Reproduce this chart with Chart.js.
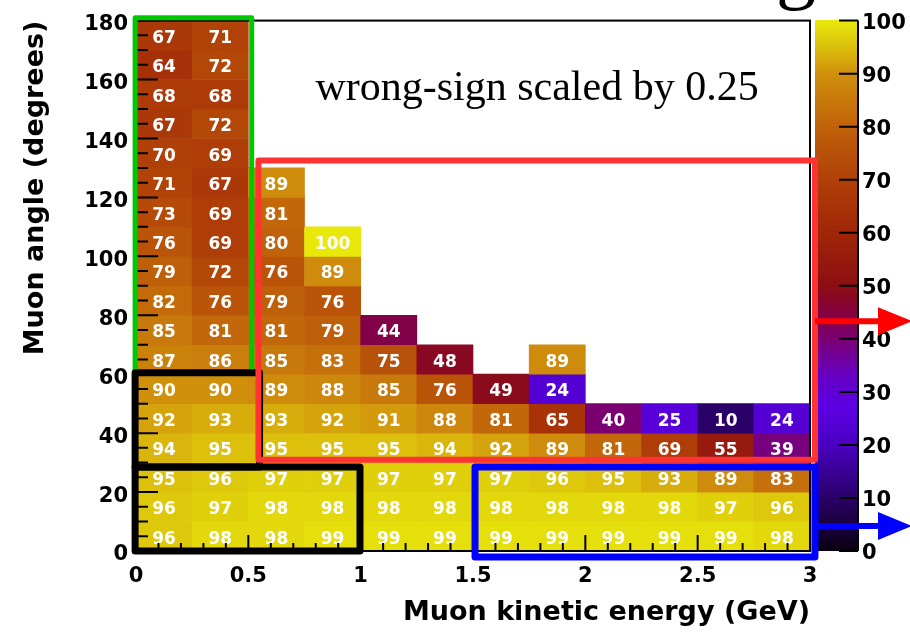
<!DOCTYPE html>
<html>
<head>
<meta charset="utf-8">
<script src="https://cdn.jsdelivr.net/npm/chart.js@4/dist/chart.umd.min.js"></script>
<style>
  html, body { margin: 0; padding: 0; background: #fff; }
  #c { display: block; }
</style>
</head>
<body>
<canvas id="c" width="910" height="634"></canvas>
<script>
// Muon kinetic energy bins (lower edges, GeV) and muon angle bins (lower edges, degrees)
const energyBinLow = [0, 0.25, 0.5, 0.75, 1.0, 1.25, 1.5, 1.75, 2.0, 2.25, 2.5, 2.75];
const angleBinLow = [0, 10, 20, 30, 40, 50, 60, 70, 80, 90, 100, 110, 120, 130, 140, 150, 160, 170];

// Purity (%) per bin, one row per angle bin starting at 0-10 degrees; null = empty bin
const purity = [
  [96, 98, 98, 99, 99, 99, 99, 99, 99, 99, 99, 98],
  [96, 97, 98, 98, 98, 98, 98, 98, 98, 98, 97, 96],
  [95, 96, 97, 97, 97, 97, 97, 96, 95, 93, 89, 83],
  [94, 95, 95, 95, 95, 94, 92, 89, 81, 69, 55, 39],
  [92, 93, 93, 92, 91, 88, 81, 65, 40, 25, 10, 24],
  [90, 90, 89, 88, 85, 76, 49, 24, null, null, null, null],
  [87, 86, 85, 83, 75, 48, null, 89, null, null, null, null],
  [85, 81, 81, 79, 44, null, null, null, null, null, null, null],
  [82, 76, 79, 76, null, null, null, null, null, null, null, null],
  [79, 72, 76, 89, null, null, null, null, null, null, null, null],
  [76, 69, 80, 100, null, null, null, null, null, null, null, null],
  [73, 69, 81, null, null, null, null, null, null, null, null, null],
  [71, 67, 89, null, null, null, null, null, null, null, null, null],
  [70, 69, null, null, null, null, null, null, null, null, null, null],
  [67, 72, null, null, null, null, null, null, null, null, null, null],
  [68, 68, null, null, null, null, null, null, null, null, null, null],
  [64, 72, null, null, null, null, null, null, null, null, null, null],
  [67, 71, null, null, null, null, null, null, null, null, null, null]
];

// Axis tick labels
const energyTicks = [0, 0.5, 1, 1.5, 2, 2.5, 3];
const angleTicks = [0, 20, 40, 60, 80, 100, 120, 140, 160, 180];
const colourTicks = [0, 10, 20, 30, 40, 50, 60, 70, 80, 90, 100];

const energyBinWidth = energyBinLow[1] - energyBinLow[0];
const angleBinWidth = angleBinLow[1] - angleBinLow[0];

// One floating bar per filled bin
const cells = [];
purity.forEach((row, i) => row.forEach((v, j) => {
  if (v === null) return;
  cells.push({ x: energyBinLow[j] + energyBinWidth / 2, y: [angleBinLow[i], angleBinLow[i] + angleBinWidth], v });
}));

// Colour palette: black -> violet -> crimson -> orange -> yellow
const paletteStops = [
  [0, [10, 0, 18]],
  [10, [42, 0, 104]],
  [20, [74, 0, 192]],
  [27, [92, 0, 228]],
  [33, [102, 0, 196]],
  [40, [122, 0, 114]],
  [45, [132, 0, 62]],
  [50, [140, 14, 18]],
  [60, [160, 38, 8]],
  [70, [176, 64, 8]],
  [80, [192, 98, 10]],
  [90, [208, 144, 12]],
  [95, [220, 192, 12]],
  [98, [226, 216, 12]],
  [100, [232, 232, 10]]
];
function paletteColour(v) {
  for (let k = 1; k < paletteStops.length; k++) {
    const [v1, c1] = paletteStops[k];
    const [v0, c0] = paletteStops[k - 1];
    if (v <= v1) {
      const t = (v - v0) / (v1 - v0);
      const c = c0.map((a, n) => Math.round(a + (c1[n] - a) * t));
      return `rgb(${c[0]},${c[1]},${c[2]})`;
    }
  }
  const c = paletteStops[paletteStops.length - 1][1];
  return `rgb(${c[0]},${c[1]},${c[2]})`;
}

const tickFont = { family: 'DejaVu Sans', weight: 'bold', size: 21 };
const titleFont = { family: 'DejaVu Sans', weight: 'bold', size: 27 };

// White numbers in each bin
const cellLabels = {
  id: 'cellLabels',
  afterDatasetsDraw(chart) {
    const ctx = chart.ctx;
    const meta = chart.getDatasetMeta(0);
    ctx.save();
    ctx.font = 'bold 17px "DejaVu Sans"';
    ctx.fillStyle = '#fff';
    ctx.textAlign = 'center';
    ctx.textBaseline = 'middle';
    meta.data.forEach((bar, k) => {
      const p = bar.getProps(['x', 'y', 'base'], true);
      ctx.fillText(String(cells[k].v), p.x, (p.y + p.base) / 2 + 3);
    });
    ctx.restore();
  }
};

// Frame, inward ticks, colour scale, selection boxes and arrows
const overlay = {
  id: 'overlay',
  afterDraw(chart) {
    const ctx = chart.ctx;
    const area = chart.chartArea;
    const xs = chart.scales.x, ys = chart.scales.y;
    const px = v => xs.getPixelForValue(v);
    const py = v => ys.getPixelForValue(v);
    ctx.save();

    // frame
    ctx.strokeStyle = '#000';
    ctx.lineWidth = 2;
    ctx.strokeRect(area.left, area.top, area.right - area.left, area.bottom - area.top);

    // tick marks pointing into the frame
    ctx.beginPath();
    for (let k = 0; k <= 30; k++) {
      const x = px(k / 10);
      const len = k % 5 === 0 ? 16 : 8;
      ctx.moveTo(x, area.bottom);
      ctx.lineTo(x, area.bottom - len);
    }
    for (let a = 0; a <= 180; a += 5) {
      const y = py(a);
      const len = a % 20 === 0 ? 22 : 12;
      ctx.moveTo(area.left, y);
      ctx.lineTo(area.left + len, y);
    }
    ctx.stroke();

    // colour scale
    const barL = area.right + 5, barR = area.right + 47;
    const zPix = z => area.bottom - (z / 100) * (area.bottom - area.top);
    for (let y = Math.floor(area.top); y < area.bottom; y++) {
      const z = (area.bottom - (y + 0.5)) / (area.bottom - area.top) * 100;
      ctx.fillStyle = paletteColour(z);
      ctx.fillRect(barL, y, barR - barL, 1);
    }
    ctx.strokeStyle = '#000';
    ctx.lineWidth = 2;
    ctx.beginPath();
    ctx.moveTo(barR + 1, area.top);
    ctx.lineTo(barR + 1, area.bottom);
    colourTicks.forEach(z => {
      ctx.moveTo(barR - 18, zPix(z));
      ctx.lineTo(barR + 1, zPix(z));
    });
    ctx.stroke();
    ctx.fillStyle = '#000';
    ctx.font = 'bold 21px "DejaVu Sans"';
    ctx.textAlign = 'left';
    ctx.textBaseline = 'middle';
    colourTicks.forEach(z => ctx.fillText(String(z), barR + 5, zPix(z) + 3));

    // selection boxes (axis units)
    const boxes = [
      { e: [-0.004, 0.515], a: [60.5, 181], colour: '#00c800', width: 5 },
      { e: [-0.004, 0.55], a: [28.5, 60.5], colour: '#000000', width: 7 },
      { e: [-0.004, 0.997], a: [0, 28.5], colour: '#000000', width: 7 },
      { e: [0.545, 3.022], a: [31, 132.5], colour: '#ff3333', width: 6 },
      { e: [1.509, 3.022], a: [-2, 28.5], colour: '#0000ff', width: 7 }
    ];
    ctx.lineJoin = 'round';
    boxes.forEach(b => {
      ctx.strokeStyle = b.colour;
      ctx.lineWidth = b.width;
      const x0 = px(b.e[0]), x1 = px(b.e[1]);
      const y0 = py(b.a[1]), y1 = py(b.a[0]);
      ctx.strokeRect(x0, y0, x1 - x0, y1 - y0);
    });

    // arrows leaving the right side
    const arrows = [
      { a: 78, colour: '#ff0000' },
      { a: 8.5, colour: '#0000ff' }
    ];
    arrows.forEach(ar => {
      const y = py(ar.a);
      const x0 = px(3.022);
      const headBase = area.right + 68;
      ctx.strokeStyle = ar.colour;
      ctx.fillStyle = ar.colour;
      ctx.lineWidth = 6;
      ctx.beginPath();
      ctx.moveTo(x0, y);
      ctx.lineTo(headBase + 2, y);
      ctx.stroke();
      ctx.beginPath();
      ctx.moveTo(headBase, y - 14);
      ctx.lineTo(headBase + 34, y);
      ctx.lineTo(headBase, y + 14);
      ctx.closePath();
      ctx.fill();
    });

    // annotation
    ctx.fillStyle = '#000';
    ctx.font = '42px "Liberation Serif"';
    ctx.textAlign = 'center';
    ctx.textBaseline = 'alphabetic';
    ctx.fillText('wrong-sign scaled by 0.25', px(1.785), py(153));

    // tail of the title running off the top
    ctx.font = '80px "Liberation Serif"';
    ctx.fillText('g', area.right - 14, -6);

    ctx.restore();
  }
};

new Chart(document.getElementById('c'), {
  type: 'bar',
  data: {
    datasets: [{
      data: cells,
      backgroundColor: c => (c.raw ? paletteColour(c.raw.v) : '#fff'),
      borderWidth: 0,
      borderSkipped: false,
      categoryPercentage: 1,
      barPercentage: 1,
      grouped: false
    }]
  },
  options: {
    responsive: false,
    animation: false,
    devicePixelRatio: 1,
    layout: { padding: { left: 0, top: 20, right: 100, bottom: 0 } },
    plugins: { legend: { display: false }, tooltip: { enabled: false } },
    scales: {
      x: {
        type: 'linear',
        min: 0,
        max: 3,
        offset: false,
        grid: { display: false, drawTicks: false, offset: false },
        border: { display: false },
        afterBuildTicks: s => { s.ticks = energyTicks.map(v => ({ value: v })); },
        afterFit: s => { s.height = 83; },
        ticks: { padding: 13, color: '#000', font: tickFont, maxRotation: 0, autoSkip: false, callback: v => String(v) },
        title: { display: true, text: 'Muon kinetic energy (GeV)', align: 'end', color: '#000', font: titleFont, padding: { top: 0, bottom: 5 } }
      },
      y: {
        type: 'linear',
        min: 0,
        max: 180,
        grid: { display: false, drawTicks: false },
        border: { display: false },
        afterBuildTicks: s => { s.ticks = angleTicks.map(v => ({ value: v })); },
        afterFit: s => { s.width = 136; },
        ticks: { padding: 8, labelOffset: 4, color: '#000', font: tickFont, autoSkip: false, callback: v => String(v) },
        title: { display: true, text: 'Muon angle (degrees)', align: 'end', color: '#000', font: titleFont, padding: { top: 20, bottom: 0 } }
      }
    }
  },
  plugins: [cellLabels, overlay]
});
</script>
</body>
</html>
